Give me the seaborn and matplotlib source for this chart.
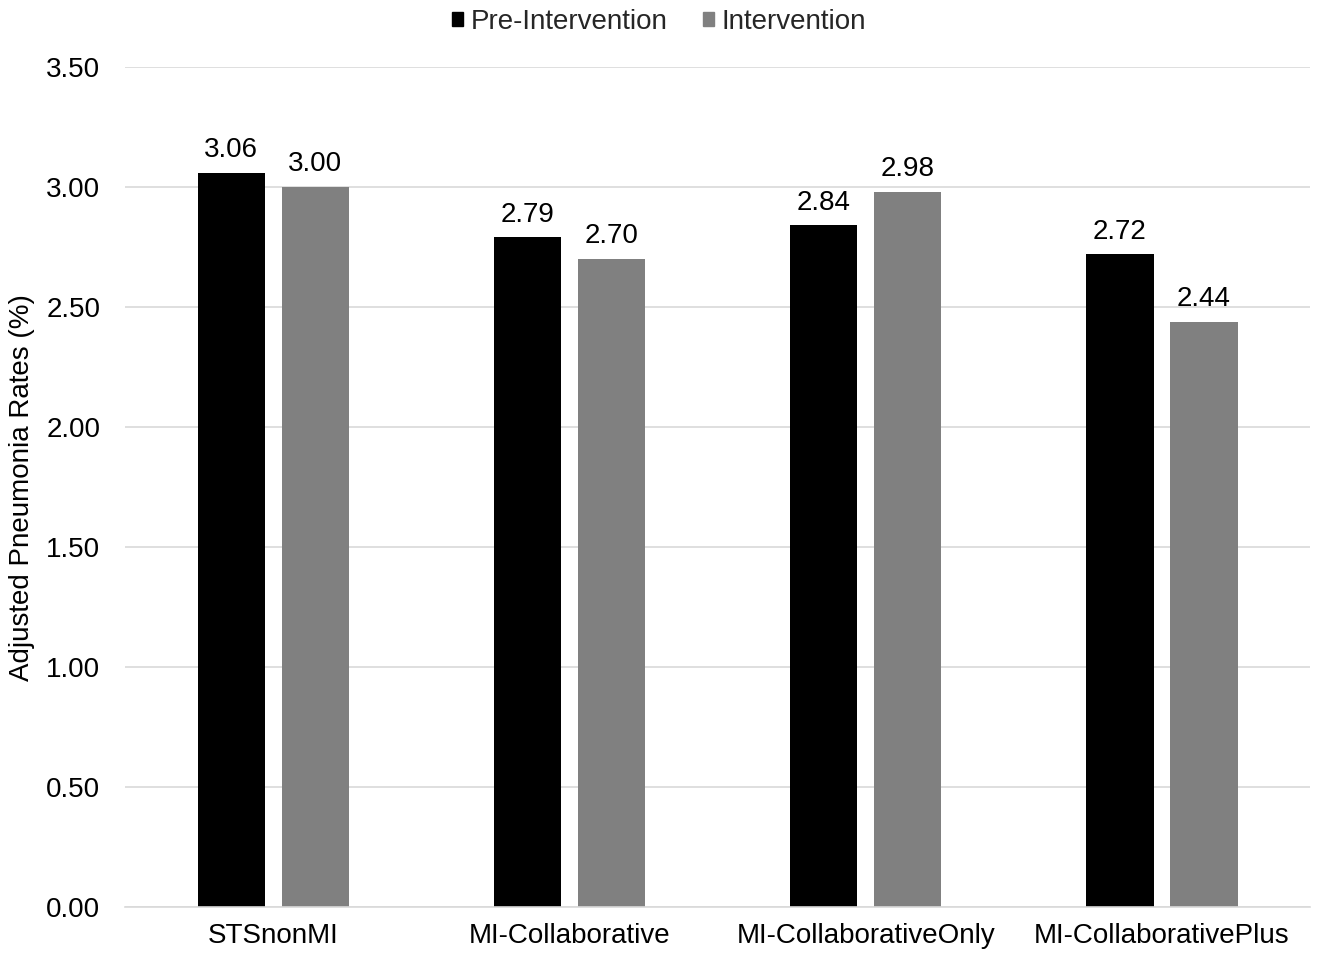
import matplotlib
matplotlib.use("Agg")
import matplotlib.pyplot as plt
import seaborn as sns
import pandas as pd
from matplotlib.patches import Patch

categories = ["STSnonMI", "MI-Collaborative", "MI-CollaborativeOnly", "MI-CollaborativePlus"]
series_names = ["Pre-Intervention", "Intervention"]
pre_values = [3.06, 2.79, 2.84, 2.72]
int_values = [3.00, 2.70, 2.98, 2.44]
y_ticks = [0.0, 0.5, 1.0, 1.5, 2.0, 2.5, 3.0, 3.5]
colors = ["#000000", "#808080"]

df = pd.DataFrame({
    "Category": categories * 2,
    "Series": [series_names[0]] * 4 + [series_names[1]] * 4,
    "Value": pre_values + int_values,
})

sns.set_theme(style="white")
plt.rcParams["font.family"] = ["Liberation Sans", "DejaVu Sans"]

FS = 20

fig = plt.figure(figsize=(13.18, 9.58), dpi=100)
ax = fig.add_axes([0.095, 0.053, 0.899, 0.877])

sns.barplot(data=df, x="Category", y="Value", hue="Series", order=categories,
            hue_order=series_names, palette=colors, width=0.568, gap=0.2,
            saturation=1, linewidth=0, ax=ax, legend=False)

for cont in ax.containers:
    ax.bar_label(cont, fmt="%.2f", padding=7, fontsize=FS, color="#000000")

ax.set_ylim(0, 3.5)
ax.set_xlim(-0.5, 3.5)
ax.set_yticks(y_ticks)
ax.set_yticklabels([f"{v:.2f}" for v in y_ticks], fontsize=FS, color="#000000")
ax.tick_params(axis="x", labelsize=FS, colors="#000000", length=0, pad=11)
ax.tick_params(axis="y", length=0, pad=18)
ax.set_xlabel("")
ax.set_ylabel("Adjusted Pneumonia Rates (%)", fontsize=20, color="#000000", labelpad=8)
ax.yaxis.grid(True, color="#d9d9d9", linewidth=1.2)
ax.set_axisbelow(True)
for s in ["left", "right", "top"]:
    ax.spines[s].set_visible(False)
ax.spines["bottom"].set_color("#d9d9d9")
ax.spines["bottom"].set_linewidth(1.2)

handles = [Patch(facecolor=c, edgecolor=c) for c in colors]
fig.legend(handles, series_names, loc="center", bbox_to_anchor=(0.5, 1 - 22 / 958),
           ncol=2, frameon=False, fontsize=FS, handlelength=0.4, handleheight=0.4,
           handletextpad=0.25, columnspacing=1.3, borderpad=0)

fig.savefig("out.png", dpi=100)
